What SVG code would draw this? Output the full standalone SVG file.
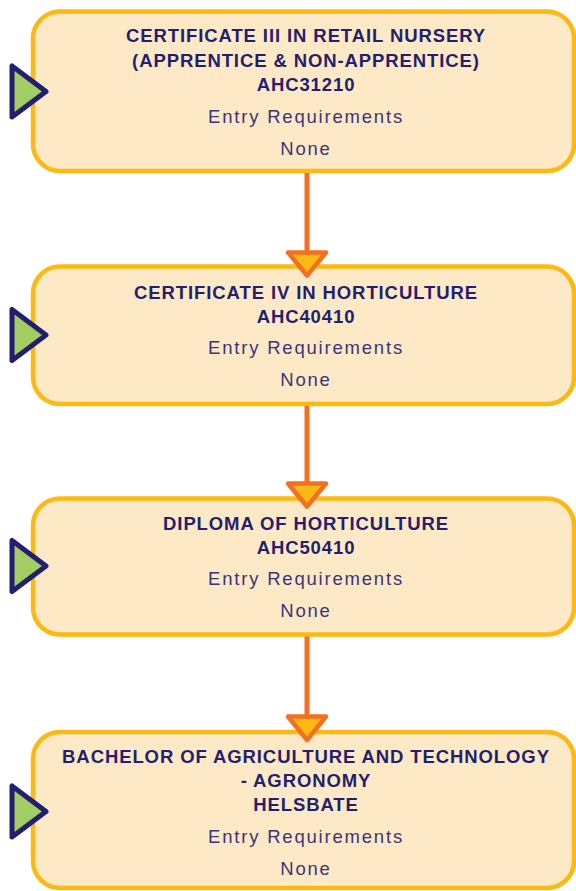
<svg xmlns="http://www.w3.org/2000/svg" width="576" height="891" viewBox="0 0 576 891">
<style>
.box{fill:#FEE9C6;stroke:#FDB913;stroke-width:4.5}
.go{fill:#A3CD62;stroke:#231F6E;stroke-width:5;stroke-linejoin:round}
.t{font-family:"Liberation Sans",Arial,sans-serif;font-weight:bold;font-size:18.5px;letter-spacing:0.9px;fill:#231F6E;text-anchor:middle}
.s{font-family:"Liberation Sans",Arial,sans-serif;font-size:18.5px;letter-spacing:1.8px;fill:#3A3578;text-anchor:middle}
.ln{stroke:#F36F21;stroke-width:5;fill:none}
.ah{fill:#FDB913;stroke:#F36F21;stroke-width:4.5;stroke-linejoin:round}
</style>
<g id="node1">
<rect class="box" x="33" y="11.5" width="541" height="159.5" rx="27"/>
<polygon class="go" points="12,66 12,117 46,91.5"/>
<text class="t" x="306" y="42">CERTIFICATE III IN RETAIL NURSERY</text>
<text class="t" x="306" y="67">(APPRENTICE &amp; NON-APPRENTICE)</text>
<text class="t" x="306" y="91">AHC31210</text>
<text class="s" x="306" y="123">Entry Requirements</text>
<text class="s" x="306" y="155">None</text>
</g>
<g id="node2">
<rect class="box" x="33" y="266.5" width="541" height="137.5" rx="27"/>
<polygon class="go" points="12,309.5 12,360.5 46,335"/>
<text class="t" x="306" y="299">CERTIFICATE IV IN HORTICULTURE</text>
<text class="t" x="306" y="323">AHC40410</text>
<text class="s" x="306" y="354">Entry Requirements</text>
<text class="s" x="306" y="386">None</text>
</g>
<g id="node3">
<rect class="box" x="33" y="498.5" width="541" height="136" rx="27"/>
<polygon class="go" points="12,540.5 12,591.5 46,566"/>
<text class="t" x="306" y="530">DIPLOMA OF HORTICULTURE</text>
<text class="t" x="306" y="554">AHC50410</text>
<text class="s" x="306" y="585">Entry Requirements</text>
<text class="s" x="306" y="617">None</text>
</g>
<g id="node4">
<rect class="box" x="33" y="732" width="541" height="156" rx="27"/>
<polygon class="go" points="12,786 12,837 46,811.5"/>
<text class="t" x="306" y="763">BACHELOR OF AGRICULTURE AND TECHNOLOGY</text>
<text class="t" x="306" y="787">- AGRONOMY</text>
<text class="t" x="306" y="811">HELSBATE</text>
<text class="s" x="306" y="843">Entry Requirements</text>
<text class="s" x="306" y="875">None</text>
</g>
<g id="connectors">
<line class="ln" x1="307" y1="173" x2="307" y2="253"/>
<polygon class="ah" points="288,252.5 326,252.5 307,275.5"/>
<line class="ln" x1="307" y1="406" x2="307" y2="484"/>
<polygon class="ah" points="288,483.5 326,483.5 307,506.5"/>
<line class="ln" x1="307" y1="636.5" x2="307" y2="717"/>
<polygon class="ah" points="288,716.5 326,716.5 307,740"/>
</g>
</svg>
